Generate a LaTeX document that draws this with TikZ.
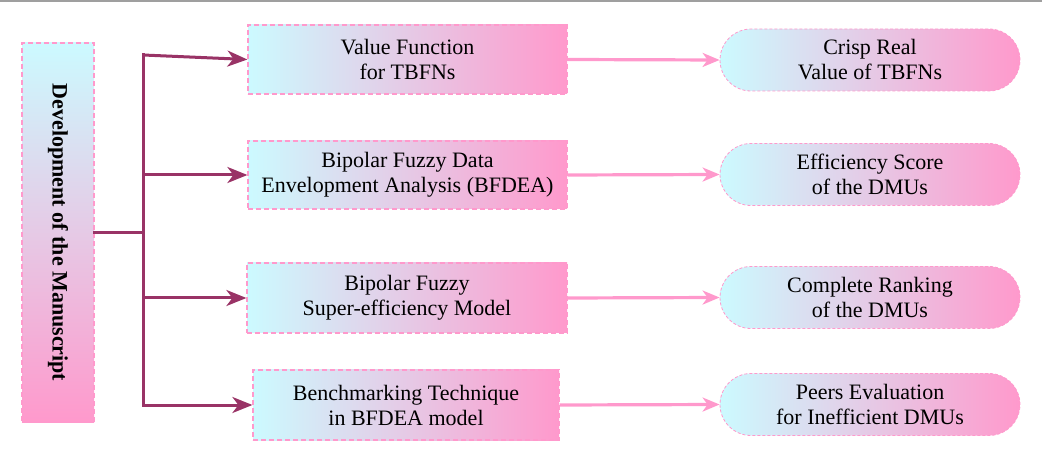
\documentclass[tikz,border=0pt]{standalone}
\usepackage{fontspec}
\setmainfont{Liberation Serif}
\usetikzlibrary{arrows.meta,shapes.misc}
\definecolor{cyanl}{RGB}{204,250,255}
\definecolor{pinkl}{RGB}{255,153,204}
\definecolor{plum}{RGB}{153,51,102}
\definecolor{edgep}{RGB}{255,153,204}
\tikzset{
  sqbox/.style={rectangle, draw=edgep, line width=1.2pt, dash pattern=on 5pt off 3pt,
    left color=cyanl, right color=pinkl, inner sep=0pt, align=center,
    font=\fontsize{22}{25}\selectfont, text=black},
  rndbox/.style={rounded rectangle, draw=edgep, line width=0.8pt, dash pattern=on 3pt off 2pt,
    left color=cyanl, right color=pinkl, inner sep=0pt, align=center,
    minimum width=300pt, minimum height=62pt,
    font=\fontsize{22}{25}\selectfont, text=black},
  darkline/.style={draw=plum, line width=3pt, line cap=rect},
  darr/.style={draw=plum, line width=3pt, -{Stealth[length=20pt,width=16pt,inset=6pt]}},
  parr/.style={draw=pinkl, line width=3.2pt, -{Stealth[length=17pt,width=14pt,inset=5pt]}}
}
\begin{document}
\begin{tikzpicture}[x=1pt,y=-1pt]
\useasboundingbox (0,0) rectangle (1042,462);
\draw[gray!75, line width=2pt] (0,1) -- (1042,1);
% left box
\node[sqbox, rotate=-90, minimum width=379pt, minimum height=72pt,
      top color=cyanl, bottom color=pinkl,
      font=\fontsize{22}{25}\selectfont\bfseries] (L) at (58,232.5) {Development of the Manuscript};
% middle boxes
\node[sqbox, minimum width=319pt, minimum height=69pt] (b1) at (407.5,59.5) {Value Function\\for TBFNs};
\node[sqbox, minimum width=319pt, minimum height=68pt] (b2) at (407.5,175) {Bipolar Fuzzy Data\\Envelopment Analysis (BFDEA)};
\node[sqbox, minimum width=320pt, minimum height=70pt] (b3) at (407,298) {Bipolar Fuzzy\\Super-efficiency Model};
\node[sqbox, minimum width=306pt, minimum height=70pt] (b4) at (406,405) {Benchmarking Technique\\in BFDEA model};
% right boxes
\node[rndbox] (r1) at (870,60) {Crisp Real\\Value of TBFNs};
\node[rndbox] (r2) at (870,174.5) {Efficiency Score\\of the DMUs};
\node[rndbox] (r3) at (870,297.5) {Complete Ranking\\of the DMUs};
\node[rndbox] (r4) at (870,404.5) {Peers Evaluation\\for Inefficient DMUs};
% trunk
\coordinate (t1) at (143,55);
\coordinate (t4) at (143,405);
\draw[darkline] (L.north) -- (L.north -| t1);
\draw[darkline] (t1) -- (t4);
\draw[darr] (t1) -- (b1.west);
\draw[darr] (b2.west -| t1) -- (b2.west);
\draw[darr] (b3.west -| t1) -- (b3.west);
\draw[darr] (t4) -- (t4 -| b4.west);
% pink arrows
\draw[parr] (b1.east) -- (r1.west);
\draw[parr] (b2.east) -- (r2.west);
\draw[parr] (b3.east) -- (r3.west);
\draw[parr] (b4.east) -- (r4.west);
\end{tikzpicture}
\end{document}
